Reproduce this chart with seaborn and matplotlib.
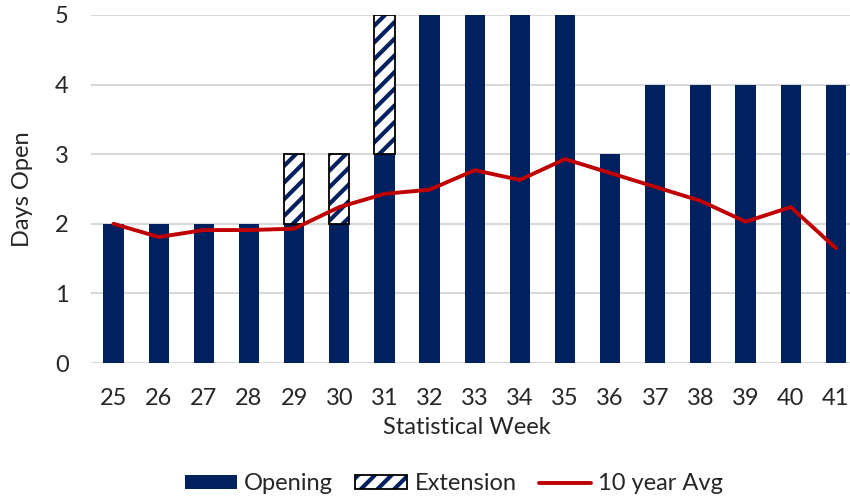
import numpy as np
import matplotlib
matplotlib.use("Agg")
import matplotlib.pyplot as plt
import matplotlib.patches as mpatches
from matplotlib.lines import Line2D
from matplotlib.legend_handler import HandlerTuple
import seaborn as sns

# === DATA ===
weeks = ["25", "26", "27", "28", "29", "30", "31", "32", "33",
         "34", "35", "36", "37", "38", "39", "40", "41"]
opening = [2, 2, 2, 2, 2, 2, 3, 5, 5, 5, 5, 3, 4, 4, 4, 4, 4]
extension = [0, 0, 0, 0, 1, 1, 2, 0, 0, 0, 0, 0, 0, 0, 0, 0, 0]
avg_10yr = [2.00, 1.81, 1.91, 1.91, 1.93, 2.24, 2.43, 2.49, 2.77,
            2.63, 2.93, 2.73, 2.53, 2.33, 2.03, 2.24, 1.65]

# === STYLE ===
navy = "#002060"
red = "#C00000"
grid_gray = "#D9D9D9"
fs = 17

sns.set_style("white")
plt.rcParams["font.family"] = ["Lato", "DejaVu Sans"]
plt.rcParams["hatch.linewidth"] = 3.0

fig = plt.figure(figsize=(8.5, 4.99), dpi=100)
ax = fig.add_axes([0.107, 0.2725, 0.903, 0.6975])

bar_w = 0.45
pos = np.arange(len(weeks))

sns.barplot(x=weeks, y=opening, color=navy, saturation=1, width=bar_w,
            linewidth=0, ax=ax, zorder=2)

# extension stacked on top of opening
ext = np.array(extension)
mask = ext > 0
ax.bar(pos[mask], ext[mask], bottom=np.array(opening)[mask], width=bar_w,
       facecolor="white", edgecolor=navy, hatch="//", linewidth=0, zorder=2)
ax.bar(pos[mask], ext[mask], bottom=np.array(opening)[mask], width=bar_w,
       fill=False, edgecolor="black", linewidth=1.3, zorder=3)

sns.lineplot(x=pos, y=avg_10yr, color=red, linewidth=2.8, ax=ax, zorder=4)

ax.set_xlim(-0.5, len(weeks) - 0.5)
ax.set_ylim(0, 5)
ax.set_yticks(range(6))
ax.yaxis.grid(True, color=grid_gray, linewidth=1.5, zorder=0)
ax.set_axisbelow(True)
for s in ax.spines.values():
    s.set_visible(False)

ax.tick_params(axis="x", length=0, pad=18, labelsize=fs)
ax.tick_params(axis="y", length=0, pad=16, labelsize=fs)
ax.set_xlabel("Statistical Week", fontsize=fs)
ax.xaxis.set_label_coords(0.49, -0.155)
ax.set_ylabel("Days Open", fontsize=fs)
ax.yaxis.set_label_coords(-0.075, 0.5)

# legend
h_open = mpatches.Patch(facecolor=navy, edgecolor="none")
h_ext = (mpatches.Patch(facecolor="white", edgecolor=navy, hatch="//", linewidth=0),
         mpatches.Patch(facecolor="none", edgecolor="black", linewidth=1.3))
h_avg = Line2D([0], [0], color=red, linewidth=2.8)
fig.legend([h_open, h_ext, h_avg], ["Opening", "Extension", "10 year Avg"],
           handler_map={tuple: HandlerTuple(ndivide=1)},
           loc="center", bbox_to_anchor=(454 / 850, 1 - 484 / 499), ncol=3,
           frameon=False, fontsize=fs, handlelength=2.2, handleheight=0.55,
           handletextpad=0.3, columnspacing=0.95)

fig.savefig("out.png", dpi=100)
